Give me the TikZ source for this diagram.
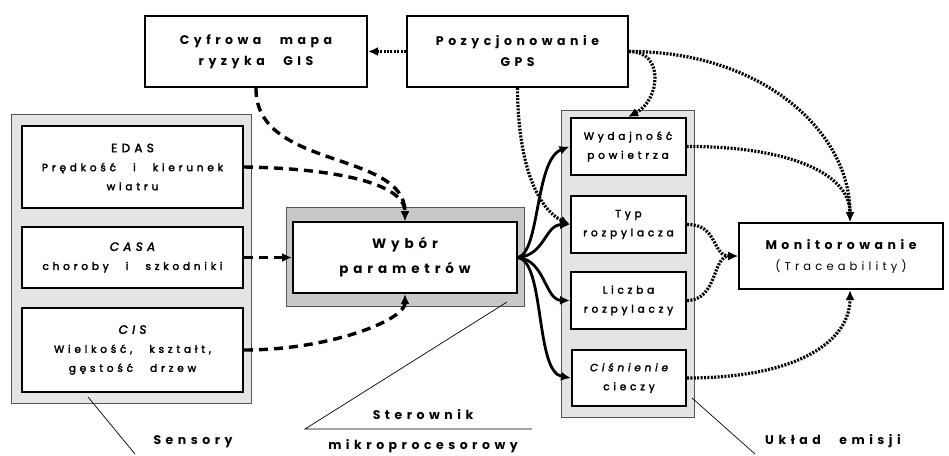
\documentclass[tikz,border=0pt]{standalone}
\usepackage{fontspec}
\setmainfont{Poppins}[LetterSpace=36,WordSpace=2.6]
\newfontfamily\medf{Poppins}[LetterSpace=36,WordSpace=2.6,FakeBold=2.5]
\usetikzlibrary{arrows.meta,calc}
\definecolor{lgray}{HTML}{E4E4E4}
\definecolor{mgray}{HTML}{C8C8C8}
\definecolor{bgray}{HTML}{555555}
\begin{document}
\begin{tikzpicture}[x=1pt,y=-1pt,
  box/.style={draw=black,line width=2pt,fill=white,align=center,inner sep=0pt,font=\medf\fontsize{10.5}{19}\selectfont},
  panel/.style={draw=bgray,line width=1pt,inner sep=0pt},
  hd/.style={font=\fontsize{12.5}{21}\selectfont\bfseries},
  dsh/.style={line width=3.4pt,dash pattern=on 9pt off 6pt,-{Latex[length=10pt,width=9pt]}},
  dtt/.style={line width=3.2pt,dash pattern=on 2pt off 1.4pt,-{Latex[length=10pt,width=9pt]}},
  sol/.style={line width=2.8pt,-{Latex[length=10pt,width=9pt]}},
  lead/.style={line width=0.7pt},
  lab/.style={font=\fontsize{12.5}{18}\selectfont\bfseries}]
\useasboundingbox (0,0) rectangle (949,455);
% panels
\node[panel,fill=lgray,minimum width=240pt,minimum height=289pt] (sens) at (131,258.5) {};
\node[panel,fill=mgray,minimum width=238pt,minimum height=99pt] (wybp) at (405,256.5) {};
\node[panel,fill=lgray,minimum width=133pt,minimum height=307pt] (emis) at (627.5,263.5) {};
% boxes
\node[box,hd,minimum width=222pt,minimum height=71pt] (gis) at (256,51.5) {Cyfrowa mapa\\ryzyka GIS};
\node[box,hd,minimum width=221pt,minimum height=71pt] (gps) at (517.5,51.5) {Pozycjonowanie\\GPS};
\node[box,minimum width=221pt,minimum height=82pt] (edas) at (132.5,167) {{\fontsize{12}{19}\selectfont EDAS}\\Prędkość i kierunek\\wiatru};
\node[box,minimum width=221pt,minimum height=61pt] (casa) at (132.5,257.5) {{\itshape\fontsize{12}{19}\selectfont CASA}\\choroby i szkodniki};
\node[box,minimum width=221pt,minimum height=84pt] (cis) at (132.5,350) {{\itshape\fontsize{12}{19}\selectfont CIS}\\Wielkość, kształt,\\gęstość drzew};
\node[box,minimum width=224pt,minimum height=71pt,font=\fontsize{13.5}{25}\selectfont\bfseries] (wyb) at (405,257.5) {Wybór\\parametrów};
\node[box,minimum width=115pt,minimum height=57pt] (wyd) at (628,146.5) {Wydajność\\powietrza};
\node[box,minimum width=115pt,minimum height=57pt] (typ) at (628.5,224.5) {Typ\\rozpylacza};
\node[box,minimum width=115pt,minimum height=57pt] (lic) at (628.5,300.5) {Liczba\\rozpylaczy};
\node[box,minimum width=114pt,minimum height=56pt] (cisn) at (629,378) {{\itshape Ciśnienie}\\cieczy};
\node[box,minimum width=204pt,minimum height=66pt,font=\fontsize{11.5}{21}\selectfont] (mon) at (841,256) {{\bfseries\fontsize{12.5}{21}\selectfont Monitorowanie}\\(Traceability)};
% labels
\node[lab] (lsens) at (193,442) {Sensory};
\node[lab] (lster) at (423,415) {Sterownik};
\node[lab] (lmikro) at (423,446) {mikroprocesorowy};
\node[lab] (luk) at (833,441) {Układ emisji};
\coordinate (s1) at (88,397);
\coordinate (s2) at (135,454);
\coordinate (m1) at (507,302);
\coordinate (m2) at (305,429);
\coordinate (m3) at (532,429);
\coordinate (u1) at (692,398);
\coordinate (u2) at (755,454);
\draw[lead] (s1) -- (s2);
\draw[lead] (m1) -- (m2) -- (m3);
\draw[lead] (u1) -- (u2);
% connectors
\coordinate (monN) at ($(mon.north)+(9,0)$);
\coordinate (monS) at ($(mon.south)+(9,0)$);
\draw[dtt] (gps.west) -- (gis.east);
\draw[dsh] (gis.south) .. controls (255,170) and (405,150) .. (wyb.north);
\draw[dsh] (edas.east) .. controls (320,168) and (405,180) .. (wyb.north);
\draw[dsh] (casa.east) -- (wyb.west);
\draw[dsh] (cis.east) .. controls (330,350) and (405,320) .. (wyb.south);
\draw[sol] (wyb.east) .. controls (540,252) and (535,160) .. (wyd.west);
\draw[sol] (wyb.east) .. controls (545,255) and (545,225) .. (typ.west);
\draw[sol] (wyb.east) .. controls (545,260) and (545,300) .. (lic.west);
\draw[sol] (wyb.east) .. controls (545,262) and (535,372) .. (cisn.west);
\draw[dtt] (gps.south) .. controls (518,170) and (540,210) .. (typ.west);
\draw[dtt] (gps.east) .. controls (665,51) and (660,100) .. (wyd.north);
\draw[dtt] (gps.east) .. controls (760,51) and (850,130) .. (monN);
\draw[dtt] (wyd.east) .. controls (780,146) and (850,170) .. (monN);
\draw[dtt] (typ.east) .. controls (718,224) and (712,256) .. (mon.west);
\draw[dtt] (lic.east) .. controls (718,300) and (712,256) .. (mon.west);
\draw[dtt] (cisn.east) .. controls (800,378) and (850,340) .. (monS);
\end{tikzpicture}
\end{document}
